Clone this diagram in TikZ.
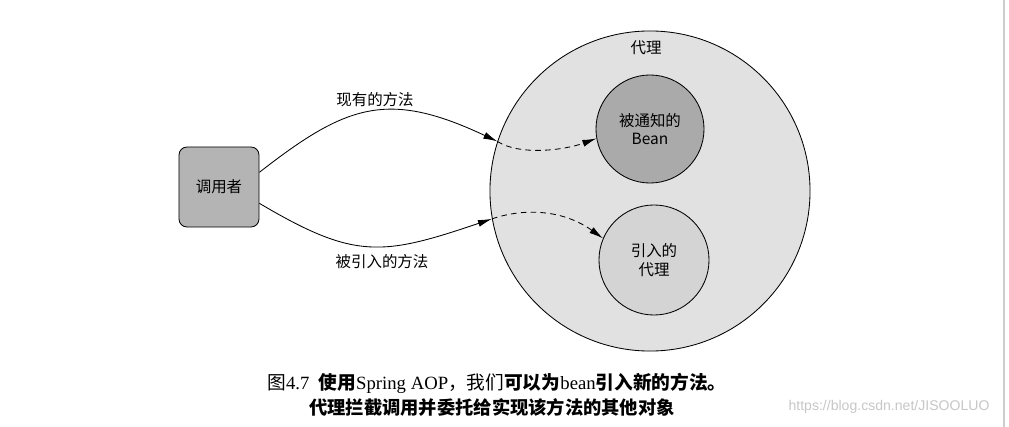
\documentclass[tikz,border=0pt]{standalone}
\usepackage{fontspec}
\setmainfont{Liberation Serif}
\setsansfont{Liberation Sans}
\newfontfamily\cjk{Noto Sans CJK SC}
\usetikzlibrary{arrows.meta}
\definecolor{callerGray}{RGB}{180,180,180}
\definecolor{proxyGray}{RGB}{225,225,225}
\definecolor{beanGray}{RGB}{170,170,170}
\definecolor{introGray}{RGB}{212,212,212}
\tikzset{
  call/.style={line width=0.6pt, -{Latex[length=10pt,width=5pt]}},
  calldash/.style={call, dash pattern=on 4pt off 3pt},
  ball/.style={circle, draw, line width=0.6pt, align=center, inner sep=0pt},
  lbl/.style={font=\cjk\fontsize{11}{13}\selectfont, align=center}
}

\begin{document}
\begin{tikzpicture}[x=0.025cm, y=-0.025cm, every node/.style={lbl}]
        \useasboundingbox (0,0) rectangle (1009,427);

        \node[ball, fill=proxyGray, minimum size=8cm] (proxy) at (650,191) {};
        \node at (646,48) {代理};
        \node[ball, fill=beanGray, minimum size=2.7cm] (bean) at (650,129) {被通知的\\Bean};
        \node[ball, fill=introGray, minimum size=2.75cm] (intro) at (654,260) {引入的\\代理};

        \node[draw, fill=callerGray, line width=0.6pt, rounded corners=0.2cm,
              minimum size=2cm] (caller) at (219,187) {调用者};

        \coordinate (inTop) at (proxy.162);
        \coordinate (inBot) at (proxy.190);

        \draw[call] (caller.20) .. controls (347,104) and (388,90) .. (inTop);
        \draw[call] (caller.-22) .. controls (355,260) and (382,256) .. (inBot);
        \draw[calldash] (inTop) .. controls (520,156) and (565,150) .. (bean.190);
        \draw[calldash] (inBot) .. controls (527,207) and (565,211) .. (intro.157);

        \node (existing) at (375,100) {现有的方法};
        \node (introduced) at (382,262) {被引入的方法};

        \node[font=\fontsize{13.3}{16}\selectfont] (caption1) at (497,383)
            {{\cjk 图}4.7\enspace{\cjk\bfseries 使用}Spring AOP{\cjk ，我们\bfseries 可以为}bean{\cjk\bfseries 引入新的方法。}};
        \node[font=\cjk\bfseries\fontsize{13}{16}\selectfont] (caption2) at (492,407)
            {代理拦截调用并委托给实现该方法的其他对象};

        \node[font=\sffamily\fontsize{10}{12}\selectfont, text=gray!45] (mark) at (889,407)
            {https://blog.csdn.net/JISOOLUO};
        \draw[gray!40, line width=2pt] (1004,0) -- (1004,427);
\end{tikzpicture}
\end{document}
